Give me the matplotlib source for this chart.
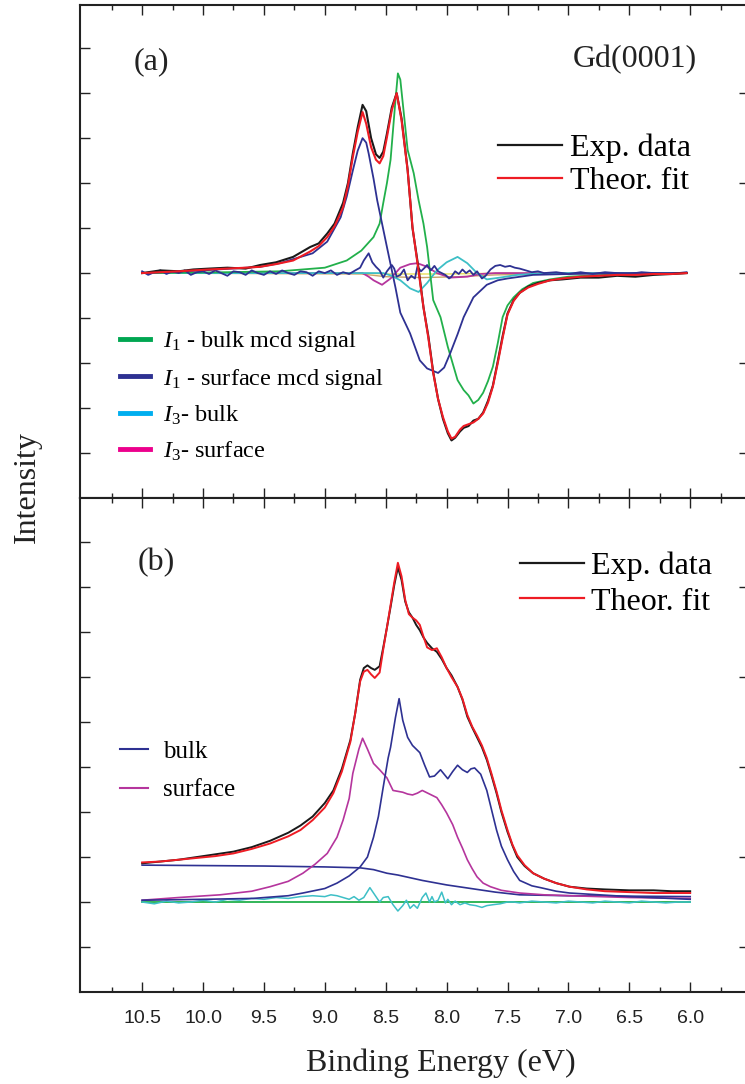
import matplotlib
matplotlib.use("Agg")
import matplotlib.pyplot as plt
from matplotlib.lines import Line2D
from matplotlib.ticker import FixedLocator, FormatStrFormatter

plt.rcParams['font.family'] = ['Liberation Serif', 'DejaVu Serif']
plt.rcParams['mathtext.fontset'] = 'custom'
plt.rcParams['mathtext.rm'] = 'Liberation Serif'
plt.rcParams['mathtext.it'] = 'Liberation Serif:italic'

# ---- panel (a): MCD spectra ----
a_x = [10.50, 10.35, 10.20, 10.08, 9.95, 9.80, 9.65, 9.53, 9.40, 9.26, 9.12, 9.05, 8.98, 8.92,
       8.85, 8.81, 8.77, 8.73, 8.69, 8.66, 8.62, 8.58, 8.55, 8.52, 8.49, 8.45, 8.41, 8.37,
       8.32, 8.28, 8.23, 8.19, 8.15, 8.11, 8.07, 8.03, 7.99, 7.96, 7.93, 7.89, 7.86, 7.82,
       7.78, 7.74, 7.70, 7.66, 7.62, 7.58, 7.54, 7.50, 7.45, 7.40, 7.33, 7.25, 7.15, 7.05,
       6.90, 6.75, 6.60, 6.45, 6.30, 6.15, 6.03]
a_exp = [0.00, 0.03, 0.02, 0.04, 0.05, 0.06, 0.05, 0.09, 0.12, 0.18, 0.29, 0.33, 0.44, 0.55,
         0.78, 1.00, 1.33, 1.62, 1.87, 1.80, 1.50, 1.32, 1.28, 1.35, 1.55, 1.84, 2.00, 1.72,
         1.15, 0.50, 0.05, -0.38, -0.70, -1.10, -1.40, -1.62, -1.78, -1.86, -1.83, -1.76, -1.72, -1.70,
         -1.64, -1.62, -1.55, -1.42, -1.25, -0.98, -0.70, -0.45, -0.30, -0.22, -0.15, -0.11, -0.08, -0.07,
         -0.05, -0.05, -0.03, -0.04, -0.02, -0.01, 0.00]
a_fit = [0.00, 0.01, 0.02, 0.03, 0.04, 0.05, 0.06, 0.07, 0.10, 0.14, 0.24, 0.30, 0.40, 0.52,
         0.73, 0.97, 1.29, 1.57, 1.79, 1.66, 1.40, 1.26, 1.22, 1.30, 1.51, 1.81, 2.00, 1.70,
         1.14, 0.51, 0.02, -0.38, -0.72, -1.11, -1.40, -1.60, -1.76, -1.84, -1.82, -1.74, -1.70, -1.68,
         -1.66, -1.62, -1.56, -1.44, -1.26, -1.00, -0.72, -0.46, -0.31, -0.22, -0.16, -0.12, -0.08, -0.06,
         -0.04, -0.03, -0.02, -0.02, -0.01, -0.01, 0.00]

bulk1_x = [10.5, 9.8, 9.37, 9.0, 8.82, 8.7, 8.6, 8.55, 8.52, 8.49, 8.46, 8.42, 8.40, 8.38,
           8.36, 8.32, 8.27, 8.23, 8.19, 8.16, 8.11, 8.05, 7.99, 7.91, 7.86, 7.82, 7.78, 7.74,
           7.70, 7.66, 7.62, 7.58, 7.54, 7.50, 7.45, 7.38, 7.29, 7.15, 7.0, 6.7, 6.4, 6.03]
bulk1_y = [0.0, 0.01, 0.02, 0.06, 0.14, 0.25, 0.40, 0.55, 0.78, 1.0, 1.26, 1.92, 2.22, 2.15,
           1.89, 1.37, 1.11, 0.81, 0.55, 0.29, -0.30, -0.49, -0.82, -1.19, -1.30, -1.36, -1.45, -1.41,
           -1.33, -1.20, -1.04, -0.78, -0.49, -0.36, -0.27, -0.18, -0.11, -0.07, -0.04, -0.02, -0.01, 0.0]

surf1_x = [10.5, 10.0, 9.53, 9.37, 9.10, 8.98, 8.87, 8.82, 8.77, 8.73, 8.69, 8.66, 8.64, 8.60,
           8.57, 8.53, 8.49, 8.42, 8.38, 8.30, 8.22, 8.16, 8.07, 8.02, 7.97, 7.91, 7.86, 7.78,
           7.67, 7.58, 7.50, 7.29, 7.0, 6.5, 6.03]
surf1_y = [0.0, 0.03, 0.07, 0.11, 0.22, 0.35, 0.62, 0.85, 1.14, 1.36, 1.50, 1.45, 1.33, 1.05,
           0.81, 0.55, 0.29, -0.16, -0.44, -0.67, -0.97, -1.06, -1.11, -1.05, -0.89, -0.68, -0.49, -0.27,
           -0.13, -0.08, -0.06, -0.02, -0.01, 0.0, 0.0]

diff_x = [10.5, 10.45, 10.4, 10.35, 10.3, 10.25, 10.2, 10.15, 10.1, 10.05, 10.0, 9.95, 9.9, 9.85,
          9.8, 9.75, 9.7, 9.65, 9.6, 9.55, 9.5, 9.45, 9.4, 9.35, 9.3, 9.25, 9.2, 9.15, 9.1, 9.05,
          9.0, 8.95, 8.9, 8.85, 8.8, 8.75, 8.71, 8.68, 8.64, 8.61, 8.58, 8.55, 8.52, 8.49, 8.45,
          8.43, 8.41, 8.38, 8.35, 8.32, 8.29, 8.26, 8.24, 8.21, 8.18, 8.16, 8.13, 8.10, 8.07, 8.04,
          8.01, 7.98, 7.96, 7.93, 7.90, 7.87, 7.84, 7.81, 7.78, 7.75, 7.71, 7.68, 7.64, 7.60, 7.56,
          7.52, 7.48, 7.44, 7.40, 7.35, 7.30, 7.25, 7.2, 7.1, 7.0, 6.9, 6.8, 6.7, 6.6, 6.5, 6.4,
          6.3, 6.2, 6.1, 6.03]
diff_y = [0.02, -0.02, 0.01, 0.03, -0.01, 0.02, 0.0, 0.03, -0.02, 0.01, 0.02, -0.01, 0.03, 0.0,
          -0.03, 0.02, 0.01, -0.02, 0.03, 0.0, -0.02, 0.02, -0.01, 0.03, 0.0, -0.02, 0.02, 0.01, -0.03, 0.02,
          0.0, 0.03, -0.02, 0.01, -0.01, 0.03, 0.06, 0.14, 0.22, 0.12, 0.07, 0.03, -0.05, 0.02, 0.09,
          0.05, -0.04, -0.02, 0.04, -0.08, -0.03, -0.06, 0.07, 0.02, 0.06, 0.09, 0.03, 0.08, 0.02, 0.0,
          -0.02, -0.06, -0.04, 0.02, -0.01, 0.04, 0.0, 0.03, -0.02, 0.02, -0.06, -0.03, 0.04, 0.08, 0.09,
          0.07, 0.08, 0.06, 0.05, 0.03, 0.01, 0.02, 0.0, 0.01, -0.01, 0.01, -0.01, 0.01, 0.0, -0.01, 0.01,
          0.0, -0.01, 0.0, 0.01]

bulk3_x = [10.5, 8.55, 8.52, 8.45, 8.38, 8.30, 8.23, 8.16, 8.08, 8.00, 7.91, 7.83, 7.75, 7.67,
           7.56, 7.42, 7.2, 6.03]
bulk3_y = [0.0, 0.0, 0.0, -0.03, -0.08, -0.17, -0.21, -0.11, 0.03, 0.12, 0.18, 0.11, 0.0, -0.07,
           -0.05, -0.02, 0.0, 0.0]

surf3_x = [10.5, 8.75, 8.69, 8.64, 8.60, 8.53, 8.46, 8.38, 8.30, 8.24, 8.16, 8.08, 7.97, 7.83,
           7.72, 7.6, 6.03]
surf3_y = [0.0, 0.0, 0.0, -0.04, -0.08, -0.13, -0.06, 0.06, 0.10, 0.11, 0.07, 0.0, -0.05, -0.04,
           -0.01, 0.0, 0.0]

base1_x = [10.5, 8.7, 8.5, 8.0, 7.5, 6.03]
base1_y = [0.0, 0.0, -0.01, -0.01, 0.0, 0.0]
base2_x = [10.5, 8.7, 8.5, 8.2, 7.9, 7.6, 7.2, 6.03]
base2_y = [0.0, -0.01, -0.04, -0.05, -0.04, -0.02, -0.01, 0.0]

# ---- panel (b): photoemission spectrum ----
b_x = [10.5, 10.35, 10.2, 10.05, 9.9, 9.75, 9.6, 9.45, 9.3, 9.2, 9.1, 9.0, 8.93, 8.86, 8.79,
       8.75, 8.71, 8.68, 8.65, 8.62, 8.59, 8.55, 8.52, 8.49, 8.46, 8.43, 8.40, 8.37, 8.34, 8.31,
       8.28, 8.25, 8.22, 8.19, 8.16, 8.12, 8.08, 8.04, 8.00, 7.96, 7.91, 7.87, 7.83, 7.79, 7.75,
       7.71, 7.67, 7.63, 7.59, 7.55, 7.50, 7.46, 7.42, 7.36, 7.29, 7.2, 7.1, 6.99, 6.85, 6.7,
       6.5, 6.3, 6.15, 6.0]
b_exp = [0.93, 0.95, 0.97, 1.0, 1.03, 1.06, 1.11, 1.18, 1.27, 1.35, 1.45, 1.60, 1.74, 1.98, 2.30,
         2.60, 2.97, 3.10, 3.13, 3.10, 3.08, 3.12, 3.33, 3.55, 3.78, 4.02, 4.22, 4.08, 3.84, 3.72,
         3.66, 3.58, 3.52, 3.44, 3.38, 3.32, 3.28, 3.20, 3.10, 3.02, 2.89, 2.75, 2.56, 2.44, 2.33,
         2.22, 2.08, 1.90, 1.71, 1.50, 1.28, 1.13, 1.0, 0.90, 0.82, 0.76, 0.71, 0.67, 0.65, 0.64,
         0.63, 0.63, 0.62, 0.62]
b_fit = [0.94, 0.95, 0.97, 0.99, 1.01, 1.04, 1.09, 1.15, 1.23, 1.30, 1.41, 1.55, 1.71, 1.95, 2.28,
         2.60, 2.95, 3.06, 3.08, 3.03, 2.99, 3.05, 3.31, 3.55, 3.80, 4.05, 4.27, 4.12, 3.86, 3.70,
         3.66, 3.63, 3.58, 3.45, 3.33, 3.30, 3.32, 3.22, 3.10, 3.00, 2.89, 2.76, 2.58, 2.45, 2.35,
         2.24, 2.10, 1.92, 1.73, 1.52, 1.30, 1.14, 1.02, 0.91, 0.82, 0.76, 0.71, 0.67, 0.64, 0.62,
         0.61, 0.60, 0.60, 0.60]

surf_b_x = [10.5, 10.2, 9.86, 9.6, 9.45, 9.3, 9.18, 9.08, 8.98, 8.90, 8.85, 8.80, 8.77, 8.72,
            8.69, 8.65, 8.60, 8.55, 8.49, 8.44, 8.40, 8.36, 8.32, 8.28, 8.24, 8.20, 8.14, 8.08,
            8.04, 8.00, 7.95, 7.91, 7.87, 7.83, 7.79, 7.75, 7.70, 7.64, 7.55, 7.40, 7.2, 6.99, 6.5, 6.0]
surf_b_y = [0.52, 0.55, 0.58, 0.62, 0.67, 0.73, 0.82, 0.92, 1.04, 1.22, 1.41, 1.65, 1.93, 2.20,
            2.32, 2.20, 2.04, 1.97, 1.88, 1.74, 1.73, 1.72, 1.70, 1.69, 1.71, 1.74, 1.70, 1.66,
            1.58, 1.49, 1.36, 1.22, 1.10, 0.97, 0.87, 0.78, 0.71, 0.67, 0.63, 0.60, 0.58, 0.57, 0.55, 0.54]

bulk_b_x = [10.5, 10.0, 9.59, 9.3, 9.18, 9.0, 8.90, 8.80, 8.71, 8.65, 8.60, 8.56, 8.52, 8.48,
            8.46, 8.42, 8.39, 8.36, 8.32, 8.28, 8.22, 8.18, 8.14, 8.10, 8.05, 8.02, 7.99, 7.95,
            7.91, 7.87, 7.83, 7.80, 7.77, 7.72, 7.67, 7.63, 7.59, 7.55, 7.50, 7.45, 7.40, 7.30,
            7.23, 7.1, 6.99, 6.5, 6.0]
bulk_b_y = [0.52, 0.53, 0.54, 0.57, 0.60, 0.65, 0.71, 0.79, 0.89, 1.0, 1.22, 1.45, 1.78, 2.10,
            2.22, 2.55, 2.76, 2.52, 2.33, 2.24, 2.16, 2.02, 1.89, 1.90, 1.97, 1.92, 1.87, 1.95,
            2.02, 1.97, 1.94, 1.98, 1.99, 1.92, 1.74, 1.52, 1.30, 1.12, 0.97, 0.84, 0.74, 0.68,
            0.66, 0.62, 0.60, 0.56, 0.53]

bg_b_x = [10.5, 10.0, 9.5, 9.0, 8.71, 8.6, 8.49, 8.4, 8.3, 8.2, 8.0, 7.8, 7.6, 7.4, 7.2, 7.0, 6.5, 6.0]
bg_b_y = [0.91, 0.905, 0.90, 0.89, 0.88, 0.86, 0.82, 0.80, 0.77, 0.74, 0.69, 0.65, 0.61, 0.58,
          0.575, 0.57, 0.565, 0.56]

res_b_x = [10.5, 10.4, 10.3, 10.2, 10.1, 10.0, 9.9, 9.8, 9.7, 9.6, 9.5, 9.4, 9.3, 9.2, 9.1, 9.0,
           8.95, 8.9, 8.85, 8.8, 8.76, 8.72, 8.68, 8.63, 8.59, 8.55, 8.52, 8.48, 8.44, 8.40, 8.36,
           8.33, 8.30, 8.27, 8.24, 8.20, 8.17, 8.14, 8.12, 8.10, 8.07, 8.04, 8.01, 7.99, 7.96, 7.93,
           7.89, 7.85, 7.81, 7.76, 7.71, 7.67, 7.62, 7.56, 7.50, 7.45, 7.40, 7.3, 7.2, 7.1, 7.0,
           6.9, 6.8, 6.7, 6.6, 6.5, 6.4, 6.3, 6.2, 6.1, 6.0]
res_b_y = [0.50, 0.48, 0.51, 0.49, 0.50, 0.52, 0.50, 0.53, 0.52, 0.54, 0.53, 0.55, 0.54, 0.56, 0.57,
           0.56, 0.58, 0.57, 0.55, 0.53, 0.56, 0.52, 0.55, 0.66, 0.58, 0.50, 0.55, 0.56, 0.47, 0.40,
           0.46, 0.52, 0.43, 0.47, 0.43, 0.55, 0.60, 0.50, 0.56, 0.50, 0.52, 0.61, 0.49, 0.53, 0.47,
           0.51, 0.47, 0.49, 0.47, 0.46, 0.44, 0.46, 0.47, 0.48, 0.50, 0.50, 0.49, 0.51, 0.50, 0.49,
           0.51, 0.50, 0.49, 0.51, 0.50, 0.49, 0.51, 0.50, 0.49, 0.50, 0.50]

zero_b_x = [10.5, 6.0]
zero_b_y = [0.5, 0.5]

x_major = [10.5, 10.0, 9.5, 9.0, 8.5, 8.0, 7.5, 7.0, 6.5, 6.0]
x_minor = [10.75, 10.25, 9.75, 9.25, 8.75, 8.25, 7.75, 7.25, 6.75, 6.25, 5.75]

W, H = 745, 1084
fig = plt.figure(figsize=(W / 100, H / 100), dpi=100)
ax_a = fig.add_axes([80 / W, 1 - 498 / H, 665 / W, 493 / H])
ax_b = fig.add_axes([80 / W, 1 - 992 / H, 665 / W, 494 / H])

# panel (a)
ax_a.plot(base2_x, base2_y, color='#c8a46a', lw=1.0)
ax_a.plot(base1_x, base1_y, color='#e8e05a', lw=1.0)
ax_a.plot(surf3_x, surf3_y, color='#b5359d', lw=1.3)
ax_a.plot(bulk3_x, bulk3_y, color='#3dbfc6', lw=1.3)
ax_a.plot(bulk1_x, bulk1_y, color='#22b04b', lw=1.3)
ax_a.plot(surf1_x, surf1_y, color='#2e3192', lw=1.3)
ax_a.plot(diff_x, diff_y, color='#2e3192', lw=1.3)
ax_a.plot(a_x, a_exp, color='#1a1a1a', lw=1.5)
ax_a.plot(a_x, a_fit, color='#ee1c24', lw=1.5)

# panel (b)
ax_b.plot(zero_b_x, zero_b_y, color='#22b04b', lw=1.3)
ax_b.plot(res_b_x, res_b_y, color='#3dbfc6', lw=1.1)
ax_b.plot(bg_b_x, bg_b_y, color='#2e3192', lw=1.2)
ax_b.plot(surf_b_x, surf_b_y, color='#b5359d', lw=1.2)
ax_b.plot(bulk_b_x, bulk_b_y, color='#2e3192', lw=1.2)
ax_b.plot(b_x, b_exp, color='#1a1a1a', lw=1.4)
ax_b.plot(b_x, b_fit, color='#ee1c24', lw=1.4)

ax_a.set_ylim(-2.5, 2.98)
ax_b.set_ylim(-0.5, 4.99)

for ax in (ax_a, ax_b):
    ax.set_xlim(11.01, 5.55)
    ax.xaxis.set_major_locator(FixedLocator(x_major))
    ax.xaxis.set_minor_locator(FixedLocator(x_minor))
    ax.xaxis.set_major_formatter(FormatStrFormatter('%.1f'))
    for s in ('left', 'top', 'bottom'):
        ax.spines[s].set_linewidth(1.5)
        ax.spines[s].set_color('#222222')
    ax.spines['right'].set_visible(False)
    ax.tick_params(which='both', direction='in', top=True, bottom=True, left=True, right=True,
                   labelleft=False, labelbottom=False, color='#222222', width=1.0)
    ax.tick_params(axis='x', which='major', length=7)
    ax.tick_params(axis='x', which='minor', length=3.5)
    ax.tick_params(axis='y', which='both', length=7)
    ax.tick_params(axis='y', which='minor', right=False)

ax_a.yaxis.set_major_locator(FixedLocator([-2, -1, 0, 1, 2]))
ax_a.yaxis.set_minor_locator(FixedLocator([-1.5, -0.5, 0.5, 1.5, 2.5]))
ax_b.yaxis.set_major_locator(FixedLocator([0, 1, 2, 3, 4]))
ax_b.yaxis.set_minor_locator(FixedLocator([0.5, 1.5, 2.5, 3.5, 4.5]))

ax_b.tick_params(axis='x', which='major', labelbottom=True, labelsize=14, pad=13,
                 labelfontfamily='Liberation Sans', labelcolor='#222222')

for ax in (ax_a, ax_b):
    for t in ax.yaxis.get_major_ticks():
        t.tick2line.set_markersize(4)

# legends
leg_kw = dict(frameon=False, borderpad=0, borderaxespad=0, bbox_transform=fig.transFigure,
              loc='center left')
h_top = [Line2D([], [], color='#1a1a1a', lw=1.6), Line2D([], [], color='#ee1c24', lw=1.6)]
lab_top = ['Exp. data', 'Theor. fit']
leg1 = ax_a.legend(h_top, lab_top, bbox_to_anchor=(498 / W, 1 - 165 / H), fontsize=23,
                   handlelength=2.0, handletextpad=0.25, labelspacing=0.12, **leg_kw)
ax_a.add_artist(leg1)
h_mcd = [Line2D([], [], color=c, lw=3.5) for c in ('#00a651', '#2e3192', '#00aeef', '#ec008c')]
lab_mcd = [r'$\mathit{I}_1$ - bulk mcd signal', r'$\mathit{I}_1$ - surface mcd signal',
           r'$\mathit{I}_3$- bulk', r'$\mathit{I}_3$- surface']
ax_a.legend(h_mcd, lab_mcd, bbox_to_anchor=(120 / W, 1 - 396 / H), fontsize=17.5,
            handlelength=1.25, handletextpad=0.5, labelspacing=0.51, **leg_kw)

leg3 = ax_b.legend(h_top, lab_top, bbox_to_anchor=(520 / W, 1 - 584 / H), fontsize=23,
                   handlelength=2.0, handletextpad=0.22, labelspacing=0.2, **leg_kw)
ax_b.add_artist(leg3)
h_b = [Line2D([], [], color='#2e3192', lw=1.5), Line2D([], [], color='#b5359d', lw=1.5)]
ax_b.legend(h_b, ['bulk', 'surface'], bbox_to_anchor=(120 / W, 1 - 771 / H), fontsize=18,
            handlelength=1.12, handletextpad=0.6, labelspacing=0.63, **leg_kw)

# texts
fig.text(151 / W, 1 - 62 / H, '(a)', fontsize=23, ha='center', va='center', color='#222222')
fig.text(635 / W, 1 - 60 / H, 'Gd(0001)', fontsize=23, ha='center', va='center', color='#222222')
fig.text(156 / W, 1 - 563 / H, '(b)', fontsize=23, ha='center', va='center', color='#222222')
fig.text(27 / W, 1 - 487 / H, 'Intensity', fontsize=23, rotation=90, ha='center', va='center',
         color='#222222')
fig.text(441 / W, 1 - 1063 / H, 'Binding Energy (eV)', fontsize=23, ha='center', va='center',
         color='#222222')

fig.savefig('out.png', dpi=100)
